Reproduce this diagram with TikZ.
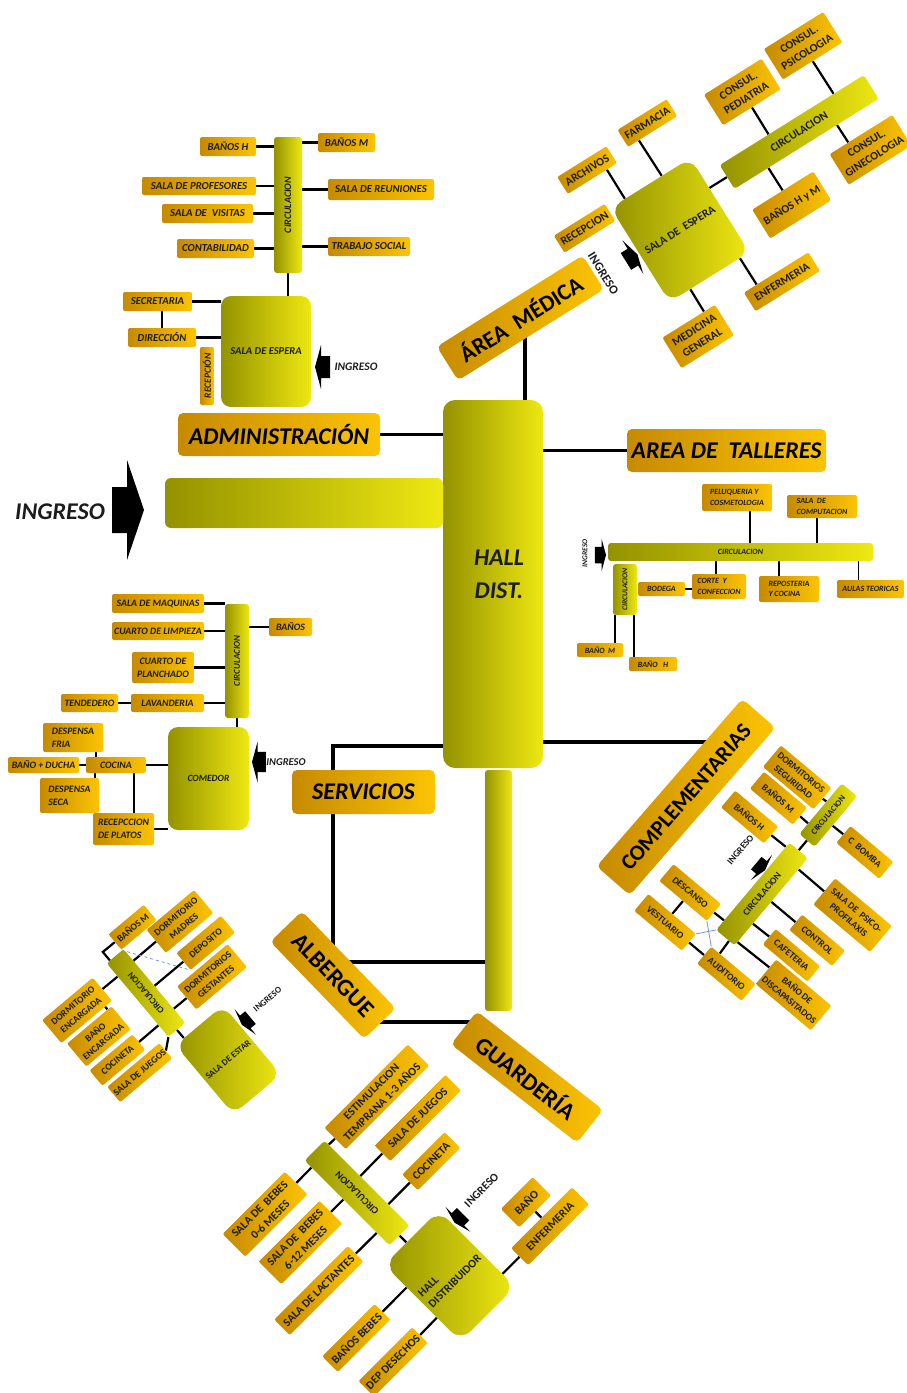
\documentclass[tikz,border=0pt]{standalone}
\usepackage{fontspec}
\setmainfont{Carlito}
\usetikzlibrary{calc,backgrounds}
\definecolor{goldL}{RGB}{198,138,0}
\definecolor{goldR}{RGB}{252,196,4}
\definecolor{oliveL}{RGB}{148,146,0}
\definecolor{oliveR}{RGB}{238,232,18}
\definecolor{ink}{RGB}{28,28,28}
\definecolor{xblue}{RGB}{120,150,205}
\tikzset{
  room/.style={rounded corners=2pt,left color=goldL,right color=goldR,inner sep=1pt,align=center,text=ink,
    font=\bfseries\fontsize{#1}{\fpeval{1.3*#1}}\selectfont},
  room/.default=9,
  iroom/.style={room=#1,font=\bfseries\itshape\fontsize{#1}{\fpeval{1.3*#1}}\selectfont},
  iroom/.default=9,
  bar/.style={rounded corners=3pt,left color=oliveL,right color=oliveR,inner sep=0pt,align=center,text=ink,
    font=\bfseries\fontsize{#1}{\fpeval{1.3*#1}}\selectfont},
  bar/.default=8,
  ibar/.style={bar=#1,font=\bfseries\itshape\fontsize{#1}{\fpeval{1.3*#1}}\selectfont},
  ibar/.default=8,
  title/.style={rounded corners=5pt,left color=goldL,right color=goldR,inner sep=2pt,text=black,
    font=\bfseries\fontsize{#1}{#1}\selectfont},
  title/.default=23,
  ititle/.style={title=#1,font=\bfseries\itshape\fontsize{#1}{#1}\selectfont},
  ititle/.default=24,
  ing/.style={text=ink,font=\bfseries\fontsize{#1}{#1}\selectfont},
  iing/.style={text=ink,font=\bfseries\itshape\fontsize{#1}{#1}\selectfont},
  link/.style={line width=2.2pt},
  thinlink/.style={line width=1.5pt},
  mainlink/.style={line width=3.6pt},
  xline/.style={line width=0.8pt,draw=xblue},
  ingarrow/.pic={\fill (0,0) -- (-6,22) -- (-6,11) -- (-15,11) -- (-15,-11) -- (-6,-11) -- (-6,-22) -- cycle;}
}
\begin{document}
\begin{tikzpicture}[x=1pt,y=-1pt]
\useasboundingbox (0,0) rectangle (906,1393);

\node[bar,rounded corners=12pt,minimum width=100pt,minimum height=368pt] (hall) at (493,584) {};
\node[text=ink,align=center,font=\bfseries\itshape\fontsize{24}{33}\selectfont] (halltxt) at (499,574) {HALL\\DIST.};
\node[bar,minimum width=27pt,minimum height=241pt] (col) at (498.5,890.5) {};
\node[bar,rounded corners=6pt,minimum width=278pt,minimum height=50pt] (ingbar) at (304,503) {};
\fill (112,487) -- (127,487) -- (127,460) -- (144,510) -- (127,560) -- (127,533) -- (112,533) -- cycle;
\node[iing=24] (ingtxt) at (60,512) {INGRESO};
\node[ititle,minimum width=202pt,minimum height=43pt] (admtit) at (279,434.5) {ADMINISTRACIÓN};
\node[ititle,minimum width=199pt,minimum height=43pt] (taltit) at (726.5,450.5) {AREA DE\ \ TALLERES};
\node[ititle,minimum width=143pt,minimum height=44pt] (sertit) at (363.5,792) {SERVICIOS\hspace{12pt}};
\node[title=22,rotate=49,minimum width=222pt,minimum height=44pt] (comtit) at (686,797) {COMPLEMENTARIAS};
\node[title=24,rotate=-46,minimum width=135pt,minimum height=44pt] (albtit) at (333,975) {ALBERGUE};
\node[title=24,rotate=-38,minimum width=160pt,minimum height=42pt] (guatit) at (527,1077) {GUARDERÍA};
\coordinate (albR) at (345,962);
\coordinate (albB) at (375,1022);

\node[ibar=10,minimum width=28pt,minimum height=136pt] (circA) at (288,205) {\rotatebox{90}{CIRCULACION}};
\node[iroom=10.7,minimum width=56pt,minimum height=19pt] (banosHA) at (228,146.5) {BAÑOS H};
\node[iroom=10.7,minimum width=57pt,minimum height=19pt] (banosMA) at (346.5,142.5) {BAÑOS M};
\node[iroom=10.7,minimum width=114pt,minimum height=18pt] (profes) at (199,186) {SALA DE PROFESORES};
\node[iroom=10.7,minimum width=106pt,minimum height=21pt] (reunion) at (381,189.5) {SALA DE REUNIONES};
\node[iroom=10.7,minimum width=91pt,minimum height=19pt] (visitas) at (207.5,213.5) {SALA DE\ \ VISITAS};
\node[iroom=10.7,minimum width=77pt,minimum height=19pt] (contab) at (215.5,248.5) {CONTABILIDAD};
\node[iroom=10.7,minimum width=82pt,minimum height=19pt] (trabajo) at (369,246.5) {TRABAJO SOCIAL};
\node[ibar=10.5,rounded corners=10pt,minimum width=90pt,minimum height=111pt] (esperaA) at (266,351.5) {SALA DE ESPERA};
\node[iroom=10.7,minimum width=69pt,minimum height=19pt] (secret) at (157.5,301.5) {SECRETARIA};
\node[iroom=10.7,minimum width=68pt,minimum height=19pt] (direc) at (162,337.5) {DIRECCIÓN};
\node[iroom=9.5,minimum width=14pt,minimum height=58pt] (recepA) at (207,376) {\rotatebox{90}{RECEPCIÓN}};
\pic[rotate=180] at (315,367) {ingarrow};
\node[iing=11.5] (ingA) at (356,367) {INGRESO};
\begin{pgfonlayer}{background}
\draw[link] (banosHA.east) -- (banosHA.east -| circA.west);
\draw[link] (banosMA.west) -- (banosMA.west -| circA.east);
\draw[link] (profes.east) -- (profes.east -| circA.west);
\draw[link] (reunion.west) -- (reunion.west -| circA.east);
\draw[link] (visitas.east) -- (visitas.east -| circA.west);
\draw[link] (contab.east) -- (contab.east -| circA.west);
\draw[link] (trabajo.west) -- (trabajo.west -| circA.east);
\draw[link] (circA.south) -- (circA.south |- esperaA.north);
\draw[link] (secret.east) -- (secret.east -| esperaA.west);
\draw[link] (direc.east) -- (direc.east -| esperaA.west);
\draw[link] (direc.north) -- (direc.north |- secret.south);
\end{pgfonlayer}

\node[ibar=8,minimum width=265pt,minimum height=18pt] (circT) at (740.5,552) {CIRCULACION};
\node[iroom=8,minimum width=70pt,minimum height=27pt,align=left] (peluq) at (737,497.5) {PELUQUERIA Y\\COSMETOLOGIA};
\node[iroom=8,minimum width=70pt,minimum height=23pt,align=left] (comput) at (822,506.5) {SALA\ \ DE\\COMPUTACION};
\node[ibar=7.5,minimum width=24pt,minimum height=51pt] (circT2) at (625,589.5) {\rotatebox{90}{CIRCULACION}};
\node[iroom=8,minimum width=47pt,minimum height=14pt] (bodega) at (661.5,589) {BODEGA};
\node[iroom=8,minimum width=54pt,minimum height=25pt,align=left] (corte) at (719,586.5) {CORTE\ \ Y\\CONFECCION};
\node[iroom=8,minimum width=60pt,minimum height=26pt,align=left] (repos) at (789,589) {REPOSTERIA\\Y COCINA};
\node[iroom=8,minimum width=67pt,minimum height=18pt] (aulas) at (870.5,589) {AULAS TEORICAS};
\node[iroom=8,minimum width=46pt,minimum height=14pt] (banoMT) at (600,650) {BAÑO\ \ M};
\node[iroom=8,minimum width=48pt,minimum height=14pt] (banoHT) at (653,664) {BAÑO\ \ \ H};
\pic[scale=.75] at (606,555) {ingarrow};
\node[iing=7.5,rotate=90] (ingT) at (585,553) {INGRESO};
\begin{pgfonlayer}{background}
\draw[thinlink] ([xshift=13pt]peluq.south) -- ([xshift=13pt]peluq.south |- circT.north);
\draw[thinlink] ([xshift=-5pt]comput.south) -- ([xshift=-5pt]comput.south |- circT.north);
\draw[thinlink] ([xshift=-3pt]corte.north) -- ([xshift=-3pt]corte.north |- circT.south);
\draw[thinlink] ([xshift=-10pt]repos.north) -- ([xshift=-10pt]repos.north |- circT.south);
\draw[thinlink] ([xshift=-12pt]aulas.north) -- ([xshift=-12pt]aulas.north |- circT.south);
\draw[thinlink] (bodega.east) -- (bodega.east -| corte.west);
\draw[thinlink] ([xshift=-10pt]circT2.south) -- ([xshift=-10pt]circT2.south |- banoMT.north);
\draw[thinlink] ([xshift=9pt]circT2.south) -- ([xshift=9pt]circT2.south |- banoHT.north);
\end{pgfonlayer}

\node[ibar=9,minimum width=24pt,minimum height=114pt] (circS) at (237,661) {\rotatebox{90}{CIRCULACION}};
\node[iroom=9.8,minimum width=92pt,minimum height=19pt] (maq) at (158,603.5) {SALA DE MAQUINAS};
\node[iroom=9.8,minimum width=92pt,minimum height=18pt] (limp) at (158,631) {CUARTO DE LIMPIEZA};
\node[iroom=9.8,minimum width=62pt,minimum height=31pt] (planch) at (163,667.5) {CUARTO DE\\PLANCHADO};
\node[iroom=9.8,minimum width=57pt,minimum height=18pt] (tend) at (89.5,703) {TENDEDERO};
\node[iroom=9.8,minimum width=73pt,minimum height=18pt] (lavan) at (167.5,703) {LAVANDERIA};
\node[iroom=9.8,minimum width=43pt,minimum height=18pt] (banosS) at (290.5,627) {BAÑOS};
\node[ibar=9.5,rounded corners=10pt,minimum width=81pt,minimum height=103pt] (comedor) at (208.5,778.5) {COMEDOR};
\node[iroom=9.8,minimum width=60pt,minimum height=29pt,align=left] (despF) at (73,737.5) {DESPENSA\\FRIA};
\node[iroom=9.8,minimum width=71pt,minimum height=16pt] (banoDu) at (43.5,765) {BAÑO + DUCHA};
\node[iroom=9.8,minimum width=60pt,minimum height=16pt] (cocina) at (116,765) {COCINA};
\node[iroom=9.8,minimum width=59pt,minimum height=35pt,align=left] (despS) at (69.5,795.5) {DESPENSA\\SECA};
\node[iroom=9.8,minimum width=61pt,minimum height=32pt,align=left] (recepP) at (123.5,829) {RECEPCCION\\DE PLATOS};
\pic[rotate=180,scale=.93] at (252,762) {ingarrow};
\node[iing=10.5] (ingS) at (286,762) {INGRESO};
\begin{pgfonlayer}{background}
\draw[link] (maq.east) -- (maq.east -| circS.west);
\draw[link] (limp.east) -- (limp.east -| circS.west);
\draw[link] (planch.east) -- (planch.east -| circS.west);
\draw[link] (lavan.east) -- (lavan.east -| circS.west);
\draw[link] (tend.east) -- (lavan.west);
\draw[link] (banosS.west) -- (banosS.west -| circS.east);
\draw[link] (circS.south) -- (circS.south |- comedor.north);
\draw[link] ([xshift=-20pt]cocina.north) -- ([xshift=-20pt]cocina.north |- despF.south);
\draw[link] (banoDu.east) -- (cocina.west);
\draw[link] (cocina.east) -- (cocina.east -| comedor.west);
\draw[link] ([xshift=-21pt]cocina.south) -- ([xshift=-21pt]cocina.south |- despS.north);
\draw[link] ([xshift=18pt]cocina.south) -- ([xshift=18pt]cocina.south |- recepP.north);
\draw[link] (recepP.east) -- (recepP.east -| comedor.west);
\end{pgfonlayer}

\begin{scope}[shift={(680,230)},rotate=32,transform shape]
\node[bar=11.5,rounded corners=12pt,minimum width=94pt,minimum height=111pt] (esperaM) at (0,0) {SALA DE\ \ ESPERA};
\node[room=11.5,minimum width=58pt,minimum height=20pt] (archivos) at (-47,-100) {ARCHIVOS};
\node[room=11.5,minimum width=58pt,minimum height=20pt] (farmacia) at (29,-108) {FARMACIA};
\node[room=11.5,minimum width=60pt,minimum height=20pt] (recepM) at (-80,-52) {RECEPCION};
\node[bar=11.5,minimum width=170pt,minimum height=28pt] (circM) at (153,-20) {CIRCULACION};
\node[room=11.5,minimum width=68pt,minimum height=36pt] (pediat) at (126,-84) {CONSUL.\\PEDIATRIA};
\node[room=11.5,minimum width=70pt,minimum height=36pt] (psico) at (202,-91) {CONSUL.\\PSICOLOGIA};
\node[room=11.5,minimum width=74pt,minimum height=36pt] (gineco) at (204,33) {CONSUL.\\GINECOLOGIA};
\node[room=11.5,minimum width=72pt,minimum height=34pt] (banosHM) at (108,38) {BAÑOS H y M};
\node[room=11.5,minimum width=76pt,minimum height=22pt] (enferM) at (59,98) {ENFERMERIA};
\node[room=11.5,minimum width=62pt,minimum height=36pt] (medgen) at (-41,100) {MEDICINA\\GENERAL};
\node[title=23,minimum width=172pt,minimum height=40pt] (medtit) at (-182,-10) {ÁREA\ \ MÉDICA};
\pic[scale=.9] at (-49,-2) {ingarrow};
\node[ing=12.5,rotate=-90] (ingM) at (-88,-4) {INGRESO};
\begin{pgfonlayer}{background}
\draw[link] ($(archivos.south west)!.79!(archivos.south east)$) -- ($(esperaM.north west)!.18!(esperaM.north east)$);
\draw[link] ($(farmacia.south west)!.22!(farmacia.south east)$) -- ($(esperaM.north west)!.64!(esperaM.north east)$);
\draw[link] ($(esperaM.north east)!.32!(esperaM.south east)$) -- (circM.west);
\draw[link] (pediat.south) -- ($(circM.north west)!.34!(circM.north east)$);
\draw[link] (psico.south) -- ($(circM.north west)!.79!(circM.north east)$);
\draw[link] ($(gineco.north west)!.3!(gineco.north east)$) -- ($(circM.south west)!.71!(circM.south east)$);
\draw[link] (banosHM.north) -- ($(circM.south west)!.235!(circM.south east)$);
\draw[link] ($(enferM.north west)!.2!(enferM.north east)$) -- ($(esperaM.south west)!.88!(esperaM.south east)$);
\draw[link] ($(medgen.north west)!.79!(medgen.north east)$) -- ($(esperaM.south west)!.26!(esperaM.south east)$);
\end{pgfonlayer}
\end{scope}

\begin{scope}[shift={(762,894)},rotate=-40,transform shape]
\node[bar=9.5,minimum width=24pt,minimum height=114pt] (circC) at (0,0) {\rotatebox{90}{CIRCULACION}};
\node[bar=8.5,minimum width=20pt,minimum height=66pt] (circC2) at (0,-103) {\rotatebox{90}{CIRCULACION}};
\node[room=9.5,minimum width=66pt,minimum height=28pt] (dormS) at (-48,-112) {DORMITORIOS\\SEGURIDAD};
\node[room=9.5,minimum width=56pt,minimum height=22pt] (banosMC) at (-49,-84) {BAÑOS M};
\node[room=9.5,minimum width=56pt,minimum height=22pt] (cbomba) at (52,-98) {C\ \ BOMBA};
\node[room=9.5,minimum width=56pt,minimum height=22pt] (banosHC) at (-59,-51) {BAÑOS H};
\node[room=9.5,minimum width=74pt,minimum height=34pt] (psicoC) at (83,-42) {SALA DE\ \ PSICO-\\PROFILAXIS};
\node[room=9.5,minimum width=56pt,minimum height=20pt] (control) at (72,0) {CONTROL};
\node[room=9.5,minimum width=58pt,minimum height=20pt] (cafet) at (62,28) {CAFETERIA};
\node[room=9.5,minimum width=72pt,minimum height=32pt] (discap) at (89,57) {BAÑO DE\\DISCAPASITADOS};
\node[room=9.5,minimum width=58pt,minimum height=22pt] (auditorio) at (24,84) {AUDITORIO};
\node[room=9.5,minimum width=62pt,minimum height=22pt] (descanso) at (-56,45) {DESCANSO};
\node[room=9.5,minimum width=62pt,minimum height=22pt] (vestuario) at (-56,84) {VESTUARIO};
\pic[scale=.75] at (-13,-20) {ingarrow};
\node[ing=9.5,rotate=90] (ingC) at (-45,-20) {INGRESO};
\begin{pgfonlayer}{background}
\draw[link] (circC.north) -- (circC2.south);
\draw[link] (dormS.east) -- ($(circC2.north west)!.36!(circC2.south west)$);
\draw[link] (banosMC.east) -- ($(circC2.north west)!.79!(circC2.south west)$);
\draw[link] ($(circC2.north east)!.58!(circC2.south east)$) -- (cbomba.west);
\draw[link] (banosHC.east) -- ($(circC.north west)!.05!(circC.south west)$);
\draw[link] ($(circC.north east)!.13!(circC.south east)$) -- (psicoC.west);
\draw[link] (circC.east) -- (control.west);
\draw[link] ($(circC.north east)!.75!(circC.south east)$) -- (cafet.west);
\draw[link] ($(circC.north east)!.96!(circC.south east)$) -- ($(discap.north west)!.33!(discap.south west)$);
\draw[link] ($(circC.south west)!.7!(circC.south east)$) -- ($(auditorio.north west)!.19!(auditorio.north east)$);
\draw[link] (descanso.east) -- ($(circC.north west)!.89!(circC.south west)$);
\draw[link] (descanso.south) -- (vestuario.north);
\draw[link] (vestuario.east) -- (auditorio.west);
\draw[xline] (vestuario.north east) -- (circC.south west);
\draw[xline] (descanso.south east) -- (auditorio.north west);
\end{pgfonlayer}
\end{scope}

\begin{scope}[shift={(146,993)},rotate=40,transform shape]
\node[bar=9,minimum width=22pt,minimum height=96pt] (circAl) at (0,0) {\rotatebox{90}{CIRCULACION}};
\node[room=9.5,minimum width=46pt,minimum height=20pt] (banosMAl) at (32,-59) {BAÑOS M};
\node[room=9.5,minimum width=62pt,minimum height=30pt] (dormMad) at (72,-33) {DORMITORIO\\MADRES};
\node[room=9.5,minimum width=58pt,minimum height=22pt] (deposito) at (78,0) {DEPOSITO};
\node[room=9.5,minimum width=66pt,minimum height=30pt] (dormGest) at (61,30) {DORMITORIOS\\GESTANTES};
\node[room=9.5,minimum width=66pt,minimum height=30pt] (dormEnc) at (-64,-31) {DORMITORIO\\ENCARGADA};
\node[room=9.5,minimum width=58pt,minimum height=30pt] (banoEnc) at (-64,3) {BAÑO\\ENCARGADA};
\node[room=9.5,minimum width=56pt,minimum height=20pt] (cocinetaA) at (-65,33) {COCINETA};
\node[room=9.5,minimum width=68pt,minimum height=20pt] (juegosA) at (-56,57) {SALA DE JUEGOS};
\node[bar=9,rounded corners=12pt,minimum width=62pt,minimum height=90pt] (estarA) at (20,104) {SALA DE ESTAR};
\pic[rotate=180,scale=.75] at (53,86) {ingarrow};
\node[ing=9] (ingAl) at (89,83) {INGRESO};
\begin{pgfonlayer}{background}
\draw[link] ($(circAl.north west)!.2!(circAl.north east)$) -- ++(0,-11) -- (banosMAl.west);
\draw[link] ($(circAl.north east)!.16!(circAl.south east)$) -- (dormMad.west);
\draw[link] (circAl.east) -- (deposito.west);
\draw[link] ($(circAl.north east)!.81!(circAl.south east)$) -- (dormGest.west);
\draw[link] (dormEnc.east) -- ($(circAl.north west)!.18!(circAl.south west)$);
\draw[link] ($(dormEnc.south west)!.86!(dormEnc.south east)$) -- ($(banoEnc.north west)!.91!(banoEnc.north east)$);
\draw[link] (cocinetaA.east) -- ($(circAl.north west)!.84!(circAl.south west)$);
\draw[link] (juegosA.east) -- (circAl.south west);
\draw[link] (circAl.south) -- ($(estarA.north west)!.18!(estarA.north east)$);
\draw[xline,dashed] (banosMAl.south west) -- (deposito.south west);
\end{pgfonlayer}
\end{scope}

\begin{scope}[shift={(357,1193)},rotate=45,transform shape]
\node[bar=10,minimum width=28pt,minimum height=120pt] (circG) at (0,0) {\rotatebox{90}{CIRCULACION}};
\node[room=11.5,minimum width=118pt,minimum height=30pt] (estim) at (82,-54) {ESTIMULACION\\TEMPRANA 1-3 AÑOS};
\node[room=11.5,minimum width=100pt,minimum height=22pt] (juegosG) at (96,-10) {SALA DE JUEGOS};
\node[room=11.5,minimum width=60pt,minimum height=22pt] (cocinetaG) at (75,30) {COCINETA};
\node[room=11.5,minimum width=88pt,minimum height=32pt] (bebes06) at (-80,-50) {SALA DE\ \ BEBES\\0-6 MESES};
\node[room=11.5,minimum width=86pt,minimum height=32pt] (bebes612) at (-75,-5) {SALA DE\ \ BEBES\\6-12 MESES};
\node[room=11.5,minimum width=104pt,minimum height=22pt] (lactantes) at (-96,42) {SALA DE LACTANTES};
\node[bar=11.5,rounded corners=14pt,minimum width=77pt,minimum height=108pt,align=left] (hallG) at (7,124) {HALL\\DISTRIBUIDOR};
\node[room=11.5,minimum width=74pt,minimum height=22pt] (banosBeb) at (-103,102) {BAÑOS BEBES};
\node[room=11.5,minimum width=76pt,minimum height=22pt] (depDes) at (-94,145) {DEP DESECHOS};
\node[room=11.5,minimum width=45pt,minimum height=26pt] (banoG) at (113,126) {BAÑO};
\node[room=11.5,minimum width=86pt,minimum height=24pt] (enferG) at (113,160) {ENFERMERIA};
\pic[rotate=180,scale=.8] at (48,90) {ingarrow};
\node[ing=11.5] (ingG) at (90,86) {INGRESO};
\begin{pgfonlayer}{background}
\draw[link] ($(circG.north east)!.05!(circG.south east)$) -- (estim.west);
\draw[link] ($(circG.north east)!.42!(circG.south east)$) -- (juegosG.west);
\draw[link] ($(circG.north east)!.75!(circG.south east)$) -- (cocinetaG.west);
\draw[link] (bebes06.east) -- ($(circG.north west)!.083!(circG.south west)$);
\draw[link] (bebes612.east) -- ($(circG.north west)!.458!(circG.south west)$);
\draw[link] (lactantes.east) -- ($(circG.north west)!.85!(circG.south west)$);
\draw[link] (circG.south) -- ($(hallG.north west)!.41!(hallG.north east)$);
\draw[link] (banosBeb.east) -- ($(hallG.north west)!.296!(hallG.south west)$);
\draw[link] (depDes.east) -- ($(hallG.north west)!.69!(hallG.south west)$);
\draw[link] (banoG.south) -- (enferG.north);
\draw[link] ($(hallG.north east)!.833!(hallG.south east)$) -- (enferG.west);
\end{pgfonlayer}
\end{scope}

\begin{pgfonlayer}{background}
\draw[mainlink] (admtit.east) -- (admtit.east -| hall.west);
\draw[mainlink] (taltit.west) -- (taltit.west -| hall.east);
\draw[mainlink] ([xshift=32pt]hall.north) -- ([xshift=32pt]hall.north |- medtit.center);
\draw[mainlink] ([yshift=22pt]hall.south west) -| (albtit.center);
\draw[mainlink] ([yshift=26pt]hall.south east) -- ([yshift=26pt]hall.south east -| comtit.north east);
\draw[mainlink] (albR) -- (albR -| col.west);
\draw[mainlink] (albB) -- (albB -| guatit.north west);
\end{pgfonlayer}
\end{tikzpicture}
\end{document}
